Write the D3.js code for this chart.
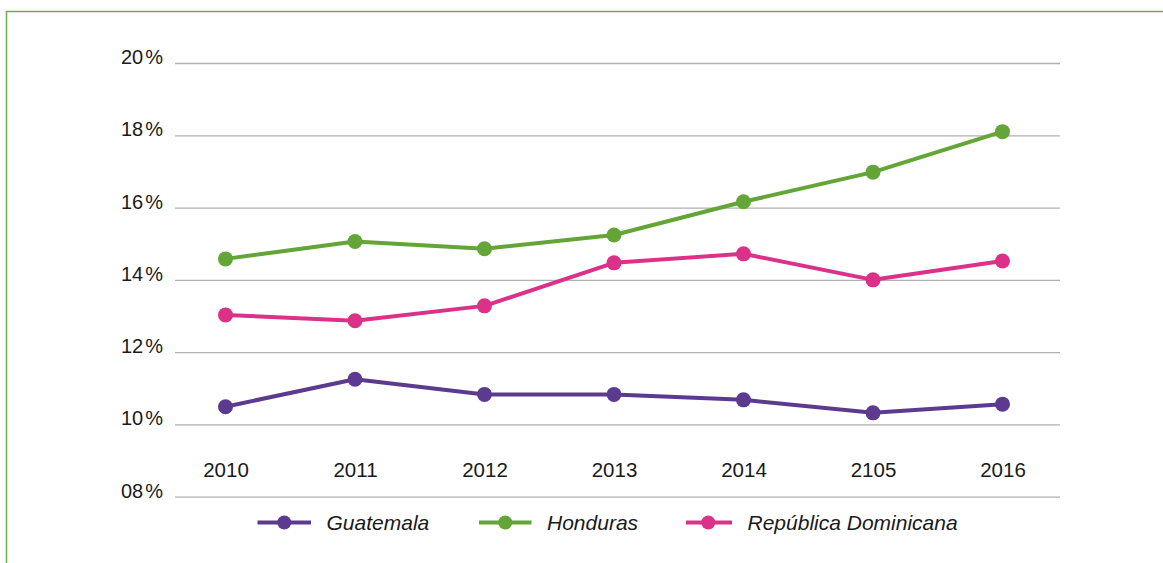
<!DOCTYPE html>
<html>
<head>
<meta charset="utf-8">
<script src="https://cdn.jsdelivr.net/npm/d3@7"></script>
<style>
  html, body { margin: 0; padding: 0; background: #fff; }
  svg { display: block; font-family: "Liberation Sans", Arial, sans-serif; }
</style>
</head>
<body>
<svg id="chart" width="1163" height="563"></svg>
<script>
// Years along the x axis (label "2105" kept as printed)
const years = ["2010", "2011", "2012", "2013", "2014", "2105", "2016"];

// Percentages per country
const guatemala = [10.49, 11.25, 10.83, 10.83, 10.68, 10.32, 10.56];
const honduras = [14.58, 15.06, 14.86, 15.24, 16.16, 16.98, 18.10];
const republicaDominicana = [13.03, 12.87, 13.28, 14.47, 14.72, 14.00, 14.52];

const seriesNames = ["Guatemala", "Honduras", "República Dominicana"];
const seriesColors = ["#5b3a8f", "#63a536", "#db3189"];

// Y axis ticks
const yTicks = [8, 10, 12, 14, 16, 18, 20];

const series = [guatemala, honduras, republicaDominicana].map((values, i) => ({
  name: seriesNames[i],
  color: seriesColors[i],
  values: values
}));

const svg = d3.select("#chart");

// Outer frame (left and top edges visible)
svg.append("path")
  .attr("d", "M6.5,563 V11.5 H1163")
  .attr("fill", "none")
  .attr("stroke", "#70ad47")
  .attr("stroke-width", 1.5);

const x = d3.scalePoint().domain(years).range([225.5, 1002.5]);
const y = d3.scaleLinear().domain([8, 20]).range([496.7, 63]);

const gridLeft = 175, gridRight = 1060;

// Horizontal gridlines via an axis
const grid = svg.append("g")
  .attr("transform", `translate(${gridLeft},0)`)
  .call(d3.axisRight(y).tickValues(yTicks).tickSize(gridRight - gridLeft).tickFormat(""));
grid.select(".domain").remove();
grid.selectAll(".tick line").attr("stroke", "#b0b0b0").attr("stroke-width", 1.3);

// Y tick labels
const yLab = svg.append("g");
yTicks.forEach(t => {
  const txt = yLab.append("text")
    .attr("x", 163)
    .attr("y", y(t) + 1)
    .attr("text-anchor", "end")
    .attr("font-size", 20)
    .attr("fill", "#1a1a1a");
  txt.append("tspan").text(String(t).padStart(2, "0"));
  txt.append("tspan").attr("dx", 2).text("%");
});

// X labels via a bottom axis without lines
const xAxis = svg.append("g")
  .attr("transform", "translate(0,476.5)")
  .call(d3.axisBottom(x).tickSize(0).tickPadding(0));
xAxis.select(".domain").remove();
xAxis.selectAll(".tick text")
  .attr("dy", 0)
  .attr("font-size", 20.5)
  .attr("font-family", "Liberation Sans, Arial, sans-serif")
  .attr("fill", "#1a1a1a");

// Lines and markers
const line = d3.line()
  .x((d, i) => x(years[i]))
  .y(d => y(d));

series.forEach(s => {
  const g = svg.append("g");
  g.append("path")
    .datum(s.values)
    .attr("d", line)
    .attr("fill", "none")
    .attr("stroke", s.color)
    .attr("stroke-width", 4)
    .attr("stroke-linejoin", "round");
  g.selectAll("circle")
    .data(s.values)
    .join("circle")
    .attr("cx", (d, i) => x(years[i]))
    .attr("cy", d => y(d))
    .attr("r", 7.5)
    .attr("fill", s.color);
});

// Legend
const legendX = [257.5, 479, 686];
const legendLen = [53.5, 52.5, 46];
const legendY = 522.5;
const legend = svg.append("g");
series.forEach((s, i) => {
  const g = legend.append("g").attr("transform", `translate(${legendX[i]},${legendY})`);
  g.append("line")
    .attr("x1", 0).attr("x2", legendLen[i])
    .attr("y1", 0).attr("y2", 0)
    .attr("stroke", s.color)
    .attr("stroke-width", 4);
  g.append("circle")
    .attr("cx", i === 2 ? 22.3 : legendLen[i] / 2).attr("cy", 0).attr("r", 7)
    .attr("fill", s.color);
  g.append("text")
    .attr("x", legendLen[i] + 15.5)
    .attr("y", 7.5)
    .attr("font-size", 21)
    .attr("font-style", "italic")
    .attr("fill", "#1a1a1a")
    .text(s.name);
});
</script>
</body>
</html>
